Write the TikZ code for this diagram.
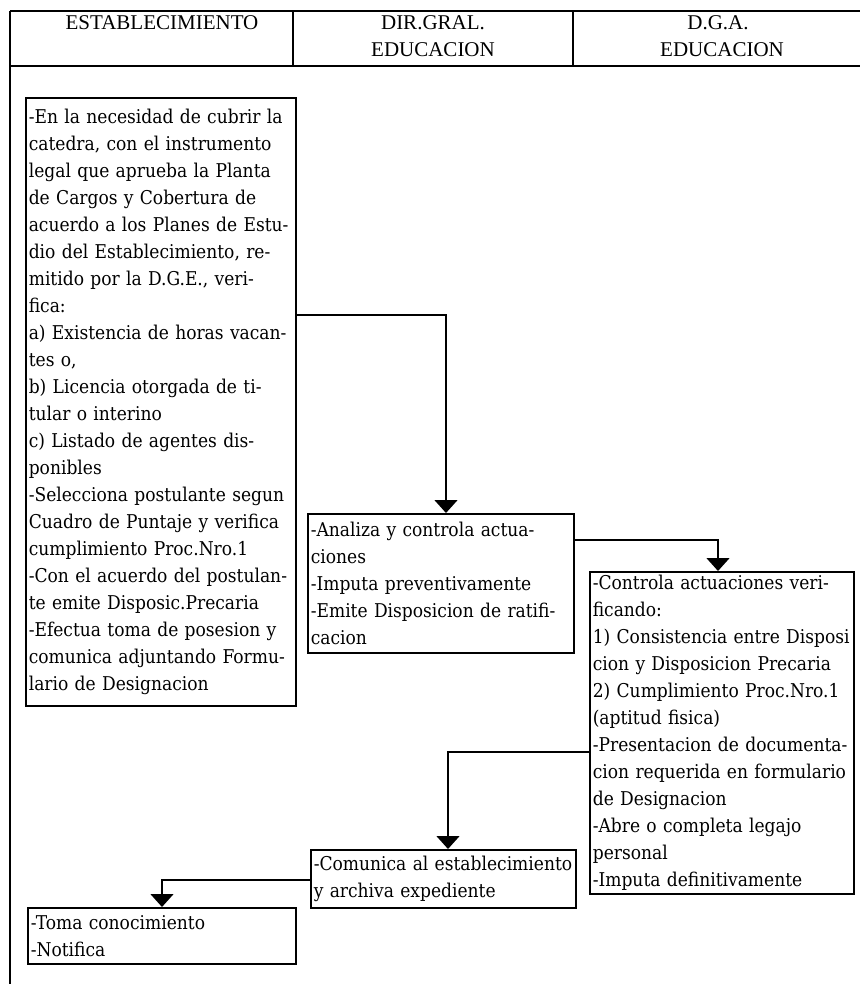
\documentclass[tikz,border=0pt]{standalone}
\usepackage{fontspec}
\setmainfont{Liberation Serif}
\newfontfamily\boxfont{DejaVu Serif Condensed}
\newcommand\bxl[1]{\mbox{#1}\\}
\newcommand\bxe[1]{\mbox{#1}}
\usetikzlibrary{arrows.meta}
\begin{document}
\begin{tikzpicture}[x=1pt,y=-1pt,
  box/.style={draw, line width=1.6pt, anchor=north west, align=left,
    inner xsep=3pt, inner ysep=0pt, font=\boxfont\fontsize{19}{27}\selectfont},
  conn/.style={line width=1.4pt, -{Triangle[width=23pt,length=13pt]}},
  hdr/.style={inner sep=0pt, font=\fontsize{21}{27}\selectfont},
  rule/.style={line width=1.8pt}]
\useasboundingbox (0,0) rectangle (860,984);
% header
\draw[rule] (10,11) -- (860,11);
\draw[rule] (10,66) -- (860,66);
\draw[rule] (293,11) -- (293,66);
\draw[rule] (573,11) -- (573,66);
\draw[rule] (10,11) -- (10,984);
\node[hdr] (h1) at (162,23) {ESTABLECIMIENTO};
\node[hdr] (h2a) at (433,23) {DIR.GRAL.};
\node[hdr] (h2b) at (433,50) {EDUCACION};
\node[hdr] (h3a) at (718,23) {D.G.A.};
\node[hdr] (h3b) at (722,50) {EDUCACION};
% boxes
\node[box, text width=264pt, minimum height=608pt] (L) at (25,97) {%
\bxl{-En la necesidad de cubrir la}
\bxl{catedra, con el instrumento}
\bxl{legal que aprueba la Planta}
\bxl{de Cargos y Cobertura de}
\bxl{acuerdo a los Planes de Estu-}
\bxl{dio del Establecimiento, re-}
\bxl{mitido por la D.G.E., veri-}
\bxl{fica:}
\bxl{a) Existencia de horas vacan-}
\bxl{tes o,}
\bxl{b) Licencia otorgada de ti-}
\bxl{tular o interino}
\bxl{c) Listado de agentes dis-}
\bxl{ponibles}
\bxl{-Selecciona postulante segun}
\bxl{Cuadro de Puntaje y verifica}
\bxl{cumplimiento Proc.Nro.1}
\bxl{-Con el acuerdo del postulan-}
\bxl{te emite Disposic.Precaria}
\bxl{-Efectua toma de posesion y}
\bxl{comunica adjuntando Formu-}
\bxe{lario de Designacion}};
\node[box, text width=260pt, minimum height=139pt] (M) at (307,513) {%
\bxl{-Analiza y controla actua-}
\bxl{ciones}
\bxl{-Imputa preventivamente}
\bxl{-Emite Disposicion de ratifi-}
\bxe{cacion}};
\node[box, text width=258pt, minimum height=322pt] (R) at (589,571) {%
\bxl{-Controla actuaciones veri-}
\bxl{ficando:}
\bxl{1) Consistencia entre Disposi}
\bxl{cion y Disposicion Precaria}
\bxl{2) Cumplimiento Proc.Nro.1}
\bxl{(aptitud fisica)}
\bxl{-Presentacion de documenta-}
\bxl{cion requerida en formulario}
\bxl{de Designacion}
\bxl{-Abre o completa legajo}
\bxl{personal}
\bxe{-Imputa definitivamente}};
\node[box, text width=259pt, minimum height=58pt] (C) at (310,849) {%
\bxl{-Comunica al establecimiento}
\bxe{y archiva expediente}};
\node[box, text width=262pt, minimum height=56pt] (T) at (27,907) {%
\bxl{-Toma conocimiento}
\bxe{-Notifica}};
% connectors
\coordinate (b1) at (446,315);
\coordinate (b2) at (718,540);
\coordinate (b3) at (448,752);
\coordinate (b4) at (162,880);
\draw[conn] (L.east |- b1) -- (b1) -- (b1 |- M.north);
\draw[conn] (M.east |- b2) -- (b2) -- (b2 |- R.north);
\draw[conn] (R.west |- b3) -- (b3) -- (b3 |- C.north);
\draw[conn] (C.west |- b4) -- (b4) -- (b4 |- T.north);
\end{tikzpicture}
\end{document}
